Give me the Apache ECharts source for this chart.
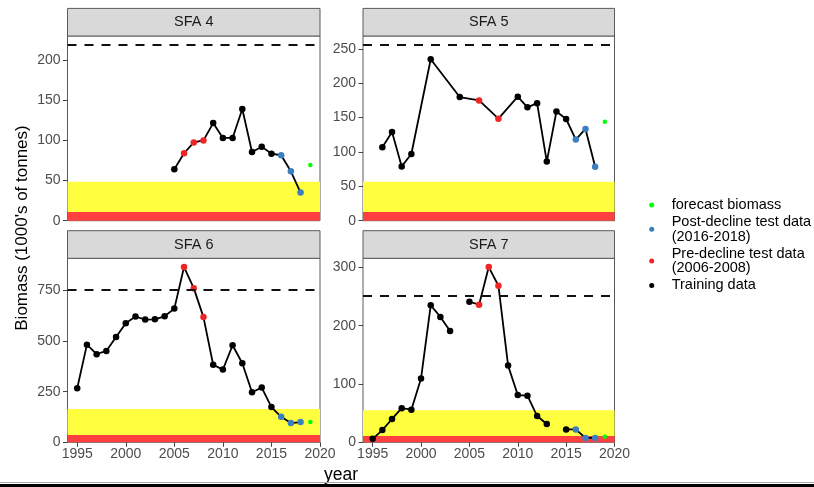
<!DOCTYPE html>
<html>
<head>
<meta charset="utf-8">
<script src="https://cdn.jsdelivr.net/npm/echarts@6/dist/echarts.min.js"></script>
<style>
html,body{margin:0;padding:0;background:#fff;}
#c{width:814px;height:487px;}
</style>
</head>
<body>
<div id="c"></div>
<script>
// ---- data ----
const panelTitles = ['SFA 4', 'SFA 5', 'SFA 6', 'SFA 7'];

const sfa4Years   = [2005, 2006, 2007, 2008, 2009, 2010, 2011, 2012, 2013, 2014, 2015, 2016, 2017, 2018, 2019];
const sfa4Biomass = [64, 84, 97.5, 100, 121.5, 103, 103, 139, 85.5, 92, 83.5, 81.5, 61.5, 35, 69.5];

const sfa5Years   = [1996, 1997, 1998, 1999, 2001, 2004, 2006, 2008, 2010, 2011, 2012, 2013, 2014, 2015, 2016, 2017, 2018, 2019];
const sfa5Biomass = [107, 129, 79, 97, 235, 180, 175, 148.5, 180.5, 165, 171, 86, 159, 148, 118, 133.5, 78.5, 144];

const sfa6Years   = [1995, 1996, 1997, 1998, 1999, 2000, 2001, 2002, 2003, 2004, 2005, 2006, 2007, 2008, 2009, 2010, 2011, 2012, 2013, 2014, 2015, 2016, 2017, 2018, 2019];
const sfa6Biomass = [267, 482, 435, 451, 520, 588, 621, 606, 607, 622, 660, 865, 761, 618, 383, 359, 479, 390, 247, 270, 174, 126, 95, 100, 100];

// null = missing year (line is broken there)
const sfa7Years   = [1995, 1996, 1997, 1998, 1999, 2000, 2001, 2002, 2003, 2004, 2005, 2006, 2007, 2008, 2009, 2010, 2011, 2012, 2013, 2014, 2015, 2016, 2017, 2018, 2019];
const sfa7Biomass = [6, 21, 40, 58.5, 56, 109.5, 235, 215, 191, null, 241, 236, 300.5, 268.5, 131.5, 81, 80, 45, 31.5, null, 22, 22, 7.5, 7.5, 9.5];

// reference levels per panel (SFA 4, 5, 6, 7)
const redZoneTop    = [10.8, 12.7, 36, 10.8];
const yellowZoneTop = [48.5, 56.8, 164.5, 55];
const dashedLevel   = [219, 256, 752, 251];

// category years
const preDeclineYears  = [2006, 2007, 2008];
const postDeclineYears = [2016, 2017, 2018];
const forecastYears    = [2019];

// tick labels
const xTicks = [1995, 2000, 2005, 2010, 2015, 2020];
const yTicks = [
  [0, 50, 100, 150, 200],
  [0, 50, 100, 150, 200, 250],
  [0, 250, 500, 750],
  [0, 100, 200, 300]
];

const legendNames = ['forecast biomass', 'Post-decline test data\n(2016-2018)', 'Pre-decline test data\n(2006-2008)', 'Training data'];
const legendColors = ['#00FF00', '#3C7FBF', '#EE2525', '#000000'];

// ---- chart ----
const yearsList = [sfa4Years, sfa5Years, sfa6Years, sfa7Years];
const valuesList = [sfa4Biomass, sfa5Biomass, sfa6Biomass, sfa7Biomass];

const FONT = "'Liberation Sans', Arial, sans-serif";
const gridBoxes = [
  {left: 67.5, top: 36, width: 252.5, height: 184.7},
  {left: 363, top: 36, width: 251.5, height: 184.7},
  {left: 67.5, top: 258.3, width: 252.5, height: 184},
  {left: 363, top: 258.3, width: 251.5, height: 184}
];

const grids = [], xAxes = [], yAxes = [], series = [], graphics = [];

gridBoxes.forEach((g, i) => {
  grids.push(Object.assign({show: true, borderColor: '#5a5a5a', borderWidth: 1, backgroundColor: 'transparent'}, g));
  const bottom = i >= 2;
  xAxes.push({
    type: 'value', gridIndex: i, min: 1994, max: 2020,
    axisLine: {show: false}, splitLine: {show: false},
    axisTick: {show: bottom, length: 4.5, lineStyle: {color: '#444'}, customValues: xTicks},
    axisLabel: {show: bottom, margin: 5, color: '#4D4D4D', fontSize: 14, fontFamily: FONT, customValues: xTicks,
                formatter: v => String(v)}
  });
  const vals = valuesList[i].filter(v => v !== null);
  const maxV = Math.max(Math.max.apply(null, vals), dashedLevel[i]) * 1.05;
  yAxes.push({
    type: 'value', gridIndex: i, min: 0, max: maxV,
    axisLine: {show: false}, splitLine: {show: false},
    axisTick: {show: true, length: 4.5, lineStyle: {color: '#444'}, customValues: yTicks[i]},
    axisLabel: {margin: 7, color: '#4D4D4D', fontSize: 14, fontFamily: FONT, customValues: yTicks[i],
                formatter: v => String(v)}
  });

  // bands + dashed line
  series.push({
    type: 'line', name: 'bands' + i, xAxisIndex: i, yAxisIndex: i, data: [], z: 1, silent: true,
    markArea: {
      silent: true, label: {show: false},
      data: [
        [{yAxis: 0, itemStyle: {color: '#FF4040'}}, {yAxis: redZoneTop[i]}],
        [{yAxis: redZoneTop[i], itemStyle: {color: '#FFFF40'}}, {yAxis: yellowZoneTop[i]}]
      ]
    },
    markLine: {
      silent: true, symbol: ['none', 'none'], label: {show: false},
      lineStyle: {color: '#111', type: [9, 8], width: 2},
      data: [{yAxis: dashedLevel[i]}]
    }
  });

  const yrs = yearsList[i], vs = valuesList[i];
  const lineData = [];
  const groups = [[], [], [], []];
  yrs.forEach((y, k) => {
    const v = vs[k];
    const isF = forecastYears.indexOf(y) >= 0;
    if (!isF) lineData.push([y, v === null ? '-' : v]);
    if (v === null) return;
    if (isF) groups[0].push([y, v]);
    else if (postDeclineYears.indexOf(y) >= 0) groups[1].push([y, v]);
    else if (preDeclineYears.indexOf(y) >= 0) groups[2].push([y, v]);
    else groups[3].push([y, v]);
  });
  series.push({
    type: 'line', name: 'line' + i, xAxisIndex: i, yAxisIndex: i, data: lineData, z: 2,
    showSymbol: false, symbol: 'none', silent: true, connectNulls: false,
    lineStyle: {color: '#000', width: 1.8}
  });
  groups.forEach((gd, gi) => {
    series.push({
      type: 'scatter', name: legendNames[gi], xAxisIndex: i, yAxisIndex: i, data: gd, z: 3,
      symbol: 'circle', symbolSize: gi === 0 ? 4.5 : 6.5, silent: true,
      itemStyle: {color: legendColors[gi], opacity: 1}
    });
  });

  // strip
  const sh = 27.6;
  graphics.push({
    type: 'rect', shape: {x: g.left, y: g.top - sh, width: g.width, height: sh},
    style: {fill: '#D9D9D9', stroke: '#5a5a5a', lineWidth: 1}, z: 10
  });
  graphics.push({
    type: 'text', x: g.left + g.width / 2, y: g.top - sh / 2, z: 11,
    style: {text: panelTitles[i], fill: '#1A1A1A', font: '14.5px ' + FONT, align: 'center', verticalAlign: 'middle'}
  });
});

// axis titles
graphics.push({
  type: 'text', x: 341, y: 475, z: 11,
  style: {text: 'year', fill: '#000', font: '17.5px ' + FONT, align: 'center', verticalAlign: 'middle'}
});
graphics.push({
  type: 'text', x: 22, y: 228, rotation: Math.PI / 2, z: 11,
  style: {text: "Biomass (1000's of tonnes)", fill: '#000', font: '17px ' + FONT, align: 'center', verticalAlign: 'middle'}
});
// bottom border of the picture
graphics.push({type: 'rect', shape: {x: 0, y: 482, width: 814, height: 1}, style: {fill: '#aaa'}, z: 11});
graphics.push({type: 'rect', shape: {x: 0, y: 484, width: 814, height: 3}, style: {fill: '#000'}, z: 11});

const chart = echarts.init(document.getElementById('c'), null, {renderer: 'canvas'});
chart.setOption({
  animation: false,
  backgroundColor: '#fff',
  grid: grids, xAxis: xAxes, yAxis: yAxes, series: series,
  legend: {
    orient: 'vertical', left: 649.2, top: 197.5,
    data: legendNames.map((n, k) => ({name: n, icon: 'circle', itemStyle: {color: legendColors[k]}})),
    itemWidth: 30, itemHeight: 5, itemGap: 2, padding: 0,
    textStyle: {fontSize: 14.5, fontFamily: FONT, color: '#000', lineHeight: 14.7},
    selectedMode: false
  },
  graphic: graphics
});
</script>
</body>
</html>
